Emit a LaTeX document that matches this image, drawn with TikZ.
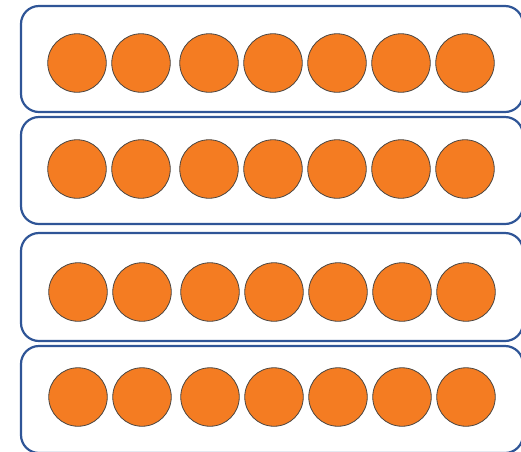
\documentclass[tikz,border=0pt]{standalone}
\usepackage{tikz}
\usetikzlibrary{positioning}
\usepackage{xcolor}

\definecolor{framecol}{HTML}{2F5597}
\definecolor{dotcol}{HTML}{F47C22}
\definecolor{rimcol}{HTML}{4A4540}

\begin{document}
\begin{tikzpicture}[x=1pt, y=-1pt]
\tikzstyle{frame} = [rectangle, draw=framecol, line width=2.2pt,
    rounded corners=18pt, fill=white, inner sep=0pt]
\tikzstyle{counter} = [circle, draw=rimcol, line width=0.8pt,
    fill=dotcol, minimum size=58.5pt, inner sep=0pt]

\useasboundingbox (0,0) rectangle (521,451);
\clip (0,0) rectangle (521,451);

\node (row1) [frame, minimum width=502pt, minimum height=106pt] at (272,59) {};
\node (row2) [frame, minimum width=502pt, minimum height=107pt] at (272,170.5) {};
\node (row3) [frame, minimum width=502pt, minimum height=108pt] at (272,287) {};
\node (row4) [frame, minimum width=502pt, minimum height=107pt] at (272,399.5) {};

\foreach \r/\y/\dx in {1/63/0, 2/169/0, 3/292/1, 4/397/1} {
  \foreach \c/\x in {1/77, 2/141, 3/209, 4/273, 5/337, 6/401, 7/465} {
    \node (r\r c\c) [counter] at (\x+\dx,\y) {};
  }
}
\end{tikzpicture}
\end{document}
